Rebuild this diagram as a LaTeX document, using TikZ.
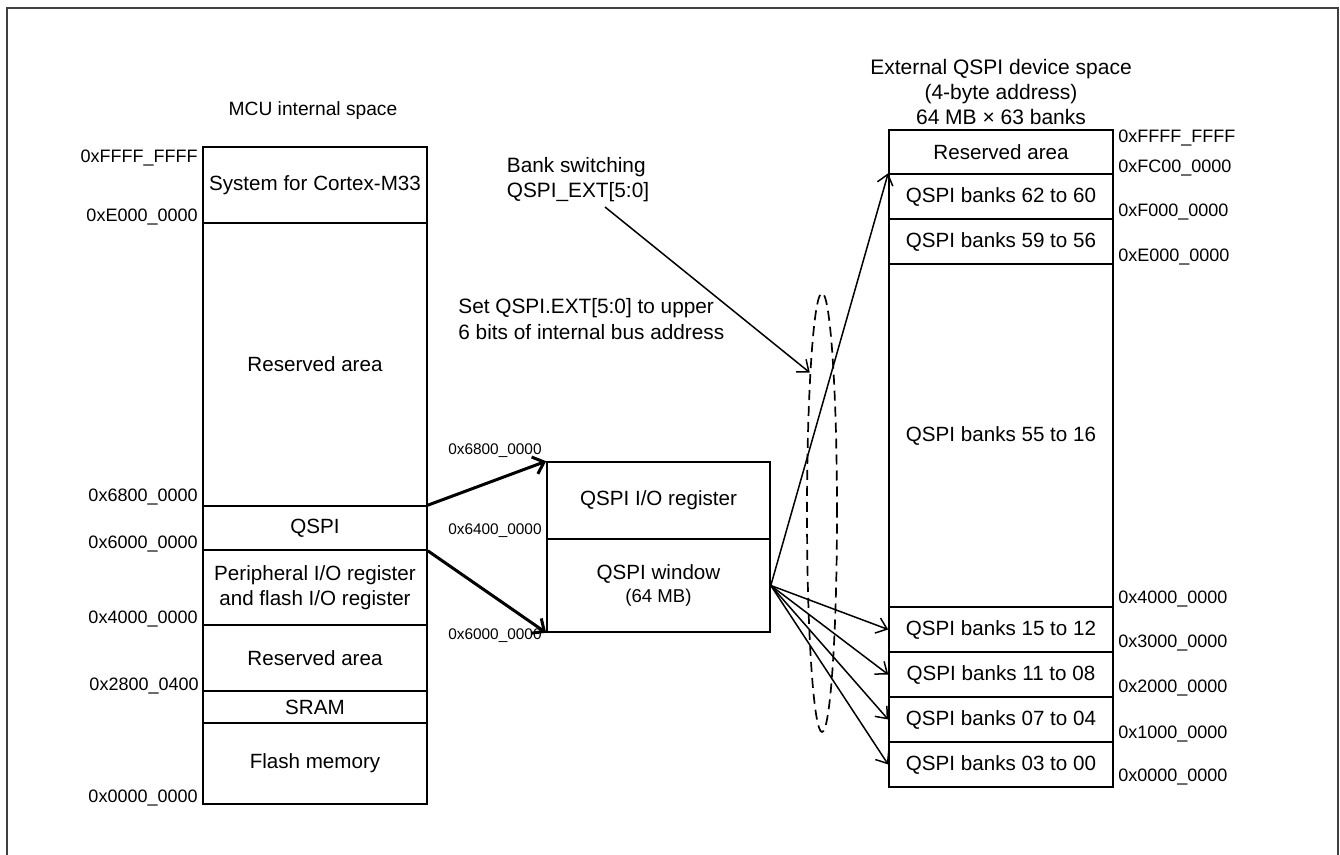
\documentclass[tikz,border=0pt]{standalone}
\usepackage{fontspec}
\setmainfont{Liberation Sans}
\usetikzlibrary{arrows.meta, shapes.geometric}

\tikzset{
  region/.style={draw, line width=0.8pt, inner sep=0pt, minimum width=112pt, align=center, font=\fontsize{10.3}{12.5}\selectfont},
  addr/.style={inner sep=0pt, font=\fontsize{9}{11}\selectfont},
  addrsm/.style={inner sep=0pt, font=\fontsize{7.7}{9}\selectfont},
  note/.style={inner sep=0pt, align=left, font=\fontsize{10.4}{12.6}\selectfont},
  bus/.style={-{Straight Barb[length=5pt,width=9pt]}, line width=1.5pt},
  map/.style={-{Straight Barb[length=5pt,width=8pt]}, line width=0.75pt},
}

\begin{document}
\begin{tikzpicture}[x=0.5pt, y=-0.5pt]
    \useasboundingbox (0,0) rectangle (1340,855);
    \draw[line width=1pt, black!75] (7,870) |- (1338,8) -- (1338,870);
    % MCU internal space
    \node[note, align=center, font=\fontsize{9.6}{12}\selectfont] (mcuTitle) at (313,111) {MCU internal space};
    \node[region, minimum height=38pt]   (sys)    at (315,185)   {System for Cortex-M33};
    \node[region, minimum height=141.5pt] (resA)  at (315,364.5) {Reserved area};
    \node[region, minimum height=22pt]   (qspi)   at (315,528)   {QSPI};
    \node[region, minimum height=37.5pt] (periph) at (315,587.5) {Peripheral I/O register\\and flash I/O register};
    \node[region, minimum height=33pt]   (resB)   at (315,658)   {Reserved area};
    \node[region, minimum height=16pt]   (sram)   at (315,707)   {SRAM};
    \node[region, minimum height=40.5pt] (flash)  at (315,763.5) {Flash memory};
    \node[addr, anchor=east] (lFFFF) at (198,158) {0xFFFF\_FFFF};
    \node[addr, anchor=east] (lE000) at (198,217) {0xE000\_0000};
    \node[addr, anchor=east] (l6800) at (198,497) {0x6800\_0000};
    \node[addr, anchor=east] (l6000) at (198,544) {0x6000\_0000};
    \node[addr, anchor=east] (l4000) at (198,619) {0x4000\_0000};
    \node[addr, anchor=east] (l2800) at (199,686) {0x2800\_0400};
    \node[addr, anchor=east] (l0000) at (198,798) {0x0000\_0000};
    % QSPI area
    \node[region, minimum width=111.5pt, minimum height=38.5pt] (io)  at (658.5,500.5) {QSPI I/O register};
    \node[region, minimum width=111.5pt, minimum height=46.5pt] (win) at (658.5,585.5)
        {QSPI window\\[-1pt]{\fontsize{9.3}{11}\selectfont (64 MB)}};
    \node[addrsm, anchor=east] (m6800) at (542,451) {0x6800\_0000};
    \node[addrsm, anchor=east] (m6400) at (542,531) {0x6400\_0000};
    \node[addrsm, anchor=east] (m6000) at (542,636) {0x6000\_0000};
    \draw[bus] (qspi.north east) -- (io.north west);
    \draw[bus] (qspi.south east) -- (win.south west);
    % External QSPI device space
    \node[note, align=center, font=\fontsize{10.5}{12.5}\selectfont] (extTitle) at (1001,92) {External QSPI device space\\(4-byte address)\\64 MB × 63 banks};
    \node[region, minimum height=22pt]    (rres) at (1001,152)   {Reserved area};
    \node[region, minimum height=22.5pt]  (b62)  at (1001,196.5) {QSPI banks 62 to 60};
    \node[region, minimum height=22.5pt]  (b59)  at (1001,241.5) {QSPI banks 59 to 56};
    \node[region, minimum height=171.5pt] (b55)  at (1001,435.5) {QSPI banks 55 to 16};
    \node[region, minimum height=22.5pt]  (b15)  at (1001,629.5) {QSPI banks 15 to 12};
    \node[region, minimum height=22.5pt]  (b11)  at (1001,674.5) {QSPI banks 11 to 08};
    \node[region, minimum height=22.5pt]  (b07)  at (1001,719.5) {QSPI banks 07 to 04};
    \node[region, minimum height=22.5pt]  (b03)  at (1001,764.5) {QSPI banks 03 to 00};
    \node[addr, anchor=west] (rFFFF) at (1118,138) {0xFFFF\_FFFF};
    \node[addr, anchor=west] (rFC00) at (1118,168) {0xFC00\_0000};
    \node[addr, anchor=west] (rF000) at (1118,212) {0xF000\_0000};
    \node[addr, anchor=west] (rE000) at (1118,257) {0xE000\_0000};
    \node[addr, anchor=west] (r4000) at (1118,599) {0x4000\_0000};
    \node[addr, anchor=west] (r3000) at (1118,643) {0x3000\_0000};
    \node[addr, anchor=west] (r2000) at (1118,688) {0x2000\_0000};
    \node[addr, anchor=west] (r1000) at (1118,734) {0x1000\_0000};
    \node[addr, anchor=west] (r0000) at (1118,777) {0x0000\_0000};
    % bank mapping
    \draw[map] (win.east) -- (b62.north west);
    \foreach \bank in {b15,b11,b07,b03}
        \draw[map] (win.east) -- (\bank.west);
    \node[draw, ellipse, dashed, dash pattern=on 5pt off 3pt, line width=0.85pt, inner sep=0pt,
          minimum width=15pt, minimum height=219.5pt] (ring) at (822,512.5) {};
    \node[note, anchor=west] (bsw) at (506.5,180) {Bank switching\\QSPI\_EXT[5:0]};
    \node[note, anchor=west] (setExt) at (458,319) {Set QSPI.EXT[5:0] to upper\\6 bits of internal bus address};
    \coordinate (bsTail) at (605,207);
    \draw[map] (bsTail) -- (ring.95);
\end{tikzpicture}
\end{document}
